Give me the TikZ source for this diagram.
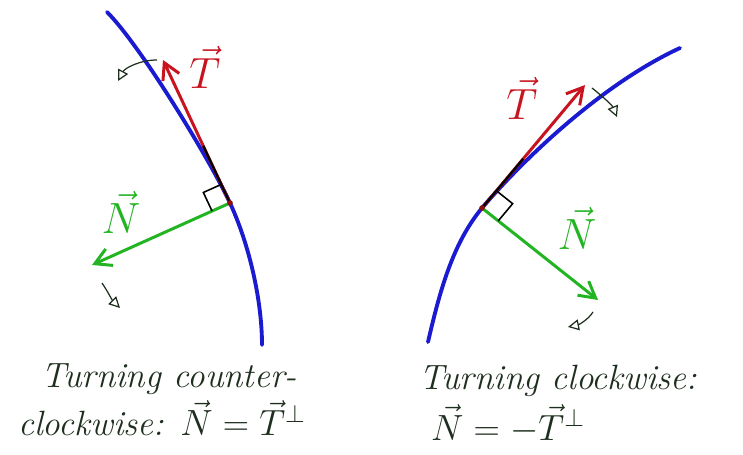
\documentclass[tikz,border=0pt]{standalone}
\usepackage{amsmath, amssymb}
\usepackage{xcolor}
\usetikzlibrary{arrows.meta, calc}

\definecolor{ink}{HTML}{1F2F1F}
\definecolor{curveblue}{HTML}{1A1AD0}
\definecolor{tred}{HTML}{C8141E}
\definecolor{ngreen}{HTML}{22B422}

\begin{document}
\begin{tikzpicture}[x=0.02cm, y=-0.02cm,
  curve/.style={curveblue, line width=2.2pt, line cap=round},
  tvec/.style={tred, line width=1.7pt, -{Straight Barb[length=3.2mm, width=3.6mm]}},
  nvec/.style={ngreen, line width=1.7pt, -{Straight Barb[length=3.2mm, width=3.6mm]}},
  tangent/.style={black, line width=1.3pt},
  rightangle/.style={black, line width=0.9pt},
  turn/.style={ink, line width=0.7pt, -{Triangle[open, length=2.2mm, width=2.2mm]}},
  tlabel/.style={tred, font=\fontsize{24}{28}\selectfont},
  nlabel/.style={ngreen, font=\fontsize{24}{28}\selectfont},
  caption/.style={text=ink, anchor=base west, font=\fontsize{20}{24}\selectfont\itshape}
]
  \useasboundingbox (0,0) rectangle (743,455);

  % Left: turning counter-clockwise
  \coordinate (P1) at (230,203);
  \coordinate (T1) at (163,60);
  \coordinate (N1) at (92,265);
  \draw[curve] (107,12) .. controls (140,45) and (209,158) .. (P1)
               .. controls (249,244) and (262,300) .. (262,345);
  \draw[tvec] (P1) -- (T1);
  \draw[tangent] (P1) -- ($(P1)!0.4!(T1)$);
  \draw[nvec] (P1) -- (N1);
  \coordinate (a1) at ($(P1)!0.13!(T1)$);
  \coordinate (b1) at ($(P1)!0.13!(N1)$);
  \draw[rightangle] (a1) -- ($(a1)+(b1)-(P1)$) -- (b1);
  \fill[tred!70!black] (P1) circle (1.6pt);
  \node[tlabel] (t1) at (205,67) {$\vec{T}$};
  \node[nlabel] (n1) at (121,212) {$\vec{N}$};

  % Turning hints
  \coordinate (ta1) at (157,60);
  \coordinate (tb1) at (118,81);
  \draw[turn] (ta1) .. controls (140,60) and (125,68) .. (tb1);
  \coordinate (na1) at (102,283);
  \coordinate (nb1) at (120,308);
  \draw[turn] (na1) .. controls (108,292) and (112,300) .. (nb1);

  % Right: turning clockwise
  \coordinate (P2) at (482,208);
  \coordinate (T2) at (585,85);
  \coordinate (N2) at (598,300);
  \draw[curve] (428,342) .. controls (440,290) and (453,243) .. (P2)
               .. controls (521,162) and (600,85) .. (680,48);
  \draw[tvec] (P2) -- (T2);
  \draw[tangent] (P2) -- ($(P2)!0.4!(T2)$);
  \draw[nvec] (P2) -- (N2);
  \coordinate (a2) at ($(P2)!0.14!(T2)$);
  \coordinate (b2) at ($(P2)!0.14!(N2)$);
  \draw[rightangle] (a2) -- ($(a2)+(b2)-(P2)$) -- (b2);
  \fill[tred!70!black] (P2) circle (1.6pt);
  \node[tlabel] (t2) at (522,98) {$\vec{T}$};
  \node[nlabel] (n2) at (577,228) {$\vec{N}$};

  % Turning hints
  \coordinate (ta2) at (592,88);
  \coordinate (tb2) at (617,117);
  \draw[turn] (ta2) .. controls (602,96) and (612,105) .. (tb2);
  \coordinate (na2) at (593,312);
  \coordinate (nb2) at (568,327);
  \draw[turn] (na2) .. controls (588,320) and (578,325) .. (nb2);

  % Captions
  \node[caption] (c1) at (35,388) {Turning counter-};
  \node[caption] (c2) at (12,436) {clockwise: $\vec{N} = \vec{T}^{\perp}$};
  \node[caption] (c3) at (413,390) {Turning clockwise:};
  \node[caption] (c4) at (425,440) {$\vec{N} = -\vec{T}^{\perp}$};
\end{tikzpicture}
\end{document}
